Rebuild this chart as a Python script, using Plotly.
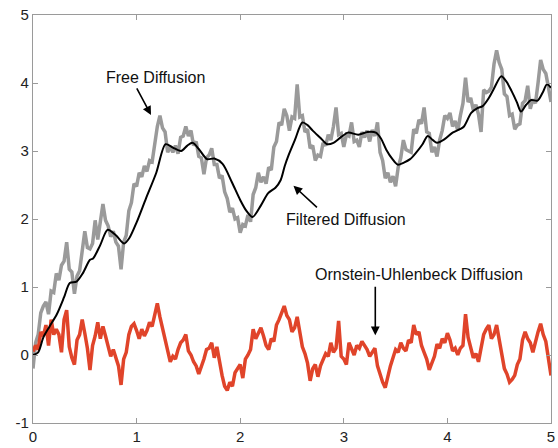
import plotly.graph_objects as go

# Sample times for the two noisy paths (step 0.025 on [0, 5])
t = [i * 0.025 for i in range(201)]

# Free (Brownian) diffusion path
free_diffusion = [
    -0.20, 0.18, 0.30, 0.62, 0.72, 0.78, 0.60, 0.94, 0.92, 1.20,
    1.10, 1.32, 1.38, 1.66, 1.26, 1.22, 0.90, 1.16, 1.24, 1.52,
    1.82, 1.58, 1.56, 1.64, 1.98, 1.70, 1.96, 2.22, 1.98, 1.90,
    1.74, 1.82, 1.66, 1.60, 1.26, 1.66, 1.76, 2.12, 2.24, 2.52,
    2.48, 2.68, 2.62, 2.78, 2.70, 2.86, 2.84, 3.12, 3.36, 3.52,
    3.34, 3.28, 2.98, 3.06, 2.98, 3.08, 2.96, 3.20, 3.22, 3.36,
    3.22, 3.30, 3.08, 3.14, 2.92, 2.90, 2.66, 2.90, 2.94, 3.04,
    2.80, 2.80, 2.60, 2.64, 2.40, 2.30, 2.10, 2.16, 2.00, 2.02,
    1.80, 1.92, 1.90, 2.06, 1.96, 2.36, 2.46, 2.68, 2.54, 2.62,
    2.52, 2.76, 2.72, 3.06, 3.14, 3.42, 3.38, 3.62, 3.52, 3.30,
    3.50, 3.48, 3.98, 3.50, 3.52, 3.28, 3.32, 3.04, 3.08, 2.86,
    2.94, 2.92, 3.12, 3.08, 3.24, 3.16, 3.36, 3.64, 3.24, 3.26,
    3.06, 3.24, 3.22, 3.42, 3.14, 3.16, 3.06, 3.28, 3.20, 3.30,
    3.14, 3.31, 3.22, 3.42, 2.98, 2.86, 2.60, 2.68, 2.54, 2.63,
    2.48, 2.76, 2.90, 3.16, 3.02, 3.00, 2.98, 3.32, 3.26, 3.46,
    3.40, 3.64, 3.28, 3.26, 2.98, 3.06, 2.92, 3.16, 3.30, 3.52,
    3.48, 3.56, 3.36, 3.44, 3.30, 3.52, 3.70, 4.08, 3.72, 3.78,
    3.60, 3.68, 3.54, 3.28, 3.90, 3.86, 3.88, 3.94, 4.28, 4.48,
    4.30, 4.20, 3.84, 3.80, 3.52, 3.54, 3.32, 3.38, 3.40, 3.70,
    3.74, 3.96, 3.62, 3.76, 3.70, 4.00, 4.34, 4.20, 4.14, 3.94,
    3.72,
]

# Ornstein-Uhlenbeck (mean-reverting) path
ou_diffusion = [
    0.05, 0.14, 0.08, 0.34, 0.28, 0.44, 0.14, 0.52, 0.30, 0.38,
    0.30, 0.04, 0.52, 0.66, 0.12, -0.04, -0.14, 0.22, 0.30, 0.52,
    0.32, 0.10, -0.22, 0.14, 0.28, 0.48, 0.24, 0.42, 0.28, 0.14,
    -0.02, 0.08, -0.06, -0.16, -0.44, -0.06, 0.04, 0.30, 0.42, 0.46,
    0.36, 0.24, 0.38, 0.28, 0.36, 0.48, 0.42, 0.62, 0.76, 0.56,
    0.40, 0.22, 0.08, -0.10, -0.02, -0.06, 0.08, 0.18, 0.22, 0.30,
    0.06, 0.00, -0.10, -0.16, -0.28, -0.18, -0.06, 0.08, 0.10, 0.18,
    -0.04, 0.12, -0.12, -0.30, -0.46, -0.52, -0.40, -0.46, -0.26, -0.20,
    -0.14, -0.34, -0.06, 0.00, 0.08, 0.38, 0.24, 0.32, 0.40, 0.28,
    0.14, 0.08, 0.24, 0.20, 0.44, 0.52, 0.62, 0.72, 0.58, 0.52,
    0.34, 0.40, 0.56, 0.30, 0.12, 0.02, -0.12, -0.38, -0.20, -0.14,
    -0.32, -0.16, -0.06, 0.02, -0.02, 0.18, 0.04, 0.10, 0.50, -0.02,
    -0.06, -0.14, 0.18, 0.10, 0.00, 0.14, 0.10, 0.20, 0.14, 0.08,
    -0.02, 0.04, 0.10, -0.16, -0.30, -0.40, -0.48, -0.30, -0.16, -0.04,
    0.08, 0.04, 0.18, 0.10, 0.06, 0.22, 0.18, 0.44, 0.30, 0.34,
    0.14, 0.04, -0.06, -0.22, -0.12, -0.02, 0.16, 0.10, 0.24, 0.18,
    0.32, 0.22, 0.06, 0.10, 0.00, 0.10, 0.14, 0.60, 0.26, 0.12,
    -0.04, 0.02, -0.10, 0.10, 0.30, 0.38, 0.44, 0.24, 0.30, 0.44,
    0.20, 0.04, -0.20, -0.28, -0.40, -0.36, -0.30, -0.14, -0.06, 0.22,
    0.34, 0.24, 0.18, 0.04, 0.20, 0.34, 0.46, 0.30, 0.20, -0.04,
    -0.30,
]

# Low-pass filtered version of the free path
filtered_t = [
    0.00, 0.05, 0.10, 0.16, 0.23, 0.30, 0.355, 0.42, 0.48, 0.55,
    0.58, 0.65, 0.72, 0.80, 0.88, 0.93, 1.00, 1.09, 1.19, 1.28,
    1.35, 1.43, 1.49, 1.54, 1.60, 1.68, 1.75, 1.83, 1.92, 2.00,
    2.06, 2.12, 2.20, 2.27, 2.34, 2.39, 2.43, 2.47, 2.53, 2.60,
    2.65, 2.70, 2.77, 2.84, 2.90, 2.97, 3.04, 3.14, 3.23, 3.31,
    3.36, 3.41, 3.47, 3.52, 3.58, 3.64, 3.70, 3.76, 3.81, 3.86,
    3.90, 3.97, 4.05, 4.12, 4.16, 4.23, 4.29, 4.34, 4.40, 4.45,
    4.52, 4.57, 4.62, 4.67, 4.71, 4.76, 4.81, 4.87, 4.92, 4.96,
    5.00,
]
filtered_diffusion = [
    0.00, 0.04, 0.26, 0.42, 0.60, 0.85, 1.06, 1.08, 1.20, 1.40,
    1.42, 1.62, 1.84, 1.76, 1.64, 1.72, 1.95, 2.30, 2.68, 3.10,
    3.05, 3.00, 3.08, 3.12, 3.03, 2.88, 2.89, 2.81, 2.54, 2.28,
    2.12, 2.03, 2.20, 2.38, 2.46, 2.57, 2.78, 2.95, 3.17, 3.42,
    3.38, 3.30, 3.20, 3.10, 3.12, 3.20, 3.27, 3.24, 3.28, 3.27,
    3.18, 3.02, 2.88, 2.80, 2.83, 2.88, 2.98, 3.10, 3.22, 3.16,
    3.12, 3.17, 3.27, 3.32, 3.36, 3.56, 3.63, 3.66, 3.78, 3.92,
    4.10, 4.02, 3.88, 3.72, 3.58, 3.68, 3.75, 3.74, 3.86, 3.98,
    3.93,
]

x_ticks = [0, 1, 2, 3, 4, 5]
y_ticks = [-1, 0, 1, 2, 3, 4, 5]

fig = go.Figure()
fig.add_trace(go.Scatter(x=t, y=free_diffusion, mode="lines",
                         line=dict(color="#9a9a9a", width=3.5), hoverinfo="skip"))
fig.add_trace(go.Scatter(x=t, y=ou_diffusion, mode="lines",
                         line=dict(color="#e0442a", width=3.5), hoverinfo="skip"))
fig.add_trace(go.Scatter(x=filtered_t, y=filtered_diffusion, mode="lines",
                         line=dict(color="#000000", width=2, shape="spline", smoothing=0.8),
                         hoverinfo="skip"))

label_font = dict(family="Liberation Sans, Arial, sans-serif", size=16, color="#111111")

# Arrows (no text) pointing at each path
arrows = [
    (1.139, 3.53, -15, -28),
    (2.514, 2.49, 25, 23),
    (3.304, 0.29, 0, -50),
]
for xh, yh, ax, ay in arrows:
    fig.add_annotation(x=xh, y=yh, ax=ax, ay=ay, text="", showarrow=True,
                       arrowhead=2, arrowsize=1.1, arrowwidth=1.6, arrowcolor="#000000")

# Labels
labels = [
    ("Free Diffusion", 1.185, 4.08),
    ("Filtered Diffusion", 3.023, 2.00),
    ("Ornstein-Uhlenbeck Diffusion", 3.724, 1.19),
]
for txt, xl, yl in labels:
    fig.add_annotation(x=xl, y=yl, text=txt, showarrow=False, font=label_font,
                       xanchor="center", yanchor="middle")

axis_common = dict(
    showgrid=False, zeroline=False,
    showline=True, linecolor="#9a9a9a", linewidth=1.2, mirror="ticks",
    ticks="inside", ticklen=5, tickcolor="#9a9a9a", tickwidth=1,
    tickfont=dict(family="Liberation Sans, Arial, sans-serif", size=15, color="#222222"),
    ticklabeloverflow="allow",
)
fig.update_xaxes(range=[0, 5], tickvals=x_ticks, ticktext=[str(v) for v in x_ticks], **axis_common)
fig.update_yaxes(range=[-1, 5], tickvals=y_ticks, ticktext=[str(v) for v in y_ticks], **axis_common)

fig.update_layout(
    width=558, height=448,
    margin=dict(l=33, r=3, t=15, b=20),
    paper_bgcolor="white", plot_bgcolor="white",
    showlegend=False,
)

fig.write_html("out.html")
